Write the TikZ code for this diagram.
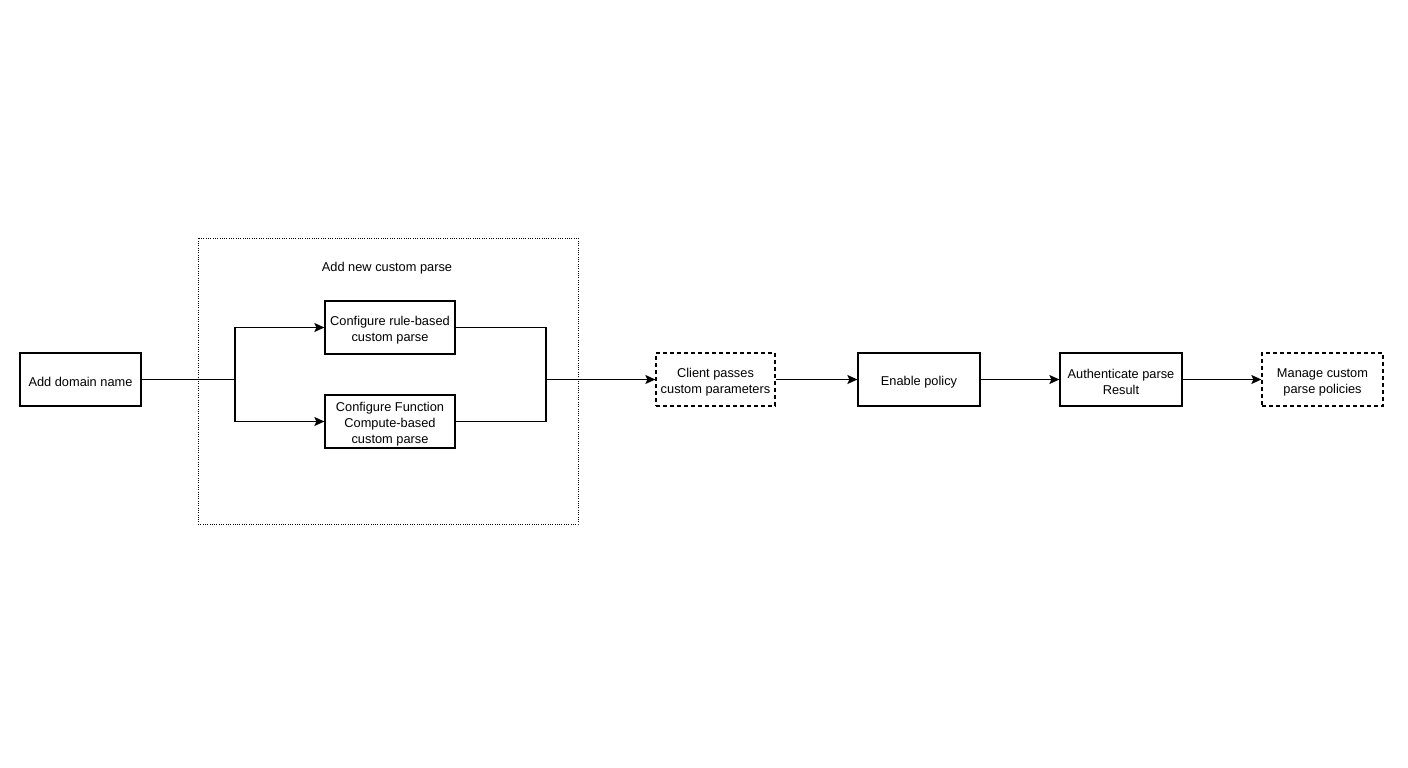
\documentclass[tikz,border=0pt]{standalone}
\usepackage{fontspec}
\setmainfont{Liberation Sans}
\usetikzlibrary{arrows.meta}
\begin{document}
\begin{tikzpicture}[x=1pt,y=1pt,
  every node/.style={font=\fontsize{12.8}{16}\selectfont, align=center, inner sep=0pt},
  txt/.style={yshift=-2.5pt},
  box/.style={draw, line width=1.3pt, minimum width=#1, minimum height=53pt},
  box/.default=121pt,
  dbox/.style={box=#1, dash pattern=on 4pt off 3pt},
  dbox/.default=120pt,
  conn/.style={line width=1.3pt},
  arr/.style={conn, -{Stealth[length=10pt,width=9pt,inset=2pt]}}
]
\useasboundingbox (0,0) rectangle (1408,-768);
\fill[white] (0,0) rectangle (1408,-768);
% container
\node[draw, line width=0.9pt, dash pattern=on 1pt off 1.3pt, minimum width=380pt, minimum height=286pt] (grp) at (388,-381) {};
\node[txt] (title) at (387,-265.5) {Add new custom parse};
% nodes
\node[box] (dom) at (80.5,-379.5) {};
\node[txt] (domt) at (dom) {Add domain name};
\node[box=130pt] (rule) at (390,-327.5) {};
\node[txt] (rulet) at (rule) {Configure rule-based\\custom parse};
\node[box=130pt] (fc) at (390,-421.5) {};
\node[txt] (fct) at (fc) {Configure Function\\Compute-based\\custom parse};
\node[dbox=119pt] (client) at (715.5,-379.5) {};
\node[txt] (clientt) at (client) {Client passes\\custom parameters};
\node[box=122pt] (enable) at (919,-379.5) {};
\node[txt] (enablet) at (enable) {Enable policy};
\node[box=122pt] (auth) at (1121,-379.5) {};
\node[txt] (autht) at (auth) {Authenticate parse\\Result};
\node[dbox=121pt] (manage) at (1322.5,-379.5) {};
\node[txt] (managet) at (manage) {Manage custom\\parse policies};
\coordinate (split) at (235,-379.5);
\coordinate (merge) at (546,-379.5);
% connectors
\draw[conn] (dom.east) -- (split);
\draw[arr] (split) |- (rule.west);
\draw[arr] (split) |- (fc.west);
\draw[conn] (rule.east) -| (merge);
\draw[conn] (fc.east) -| (merge);
\draw[arr] (merge) -- (client.west);
\draw[arr] (client.east) -- (enable.west);
\draw[arr] (enable.east) -- (auth.west);
\draw[arr] (auth.east) -- (manage.west);
\end{tikzpicture}
\end{document}
